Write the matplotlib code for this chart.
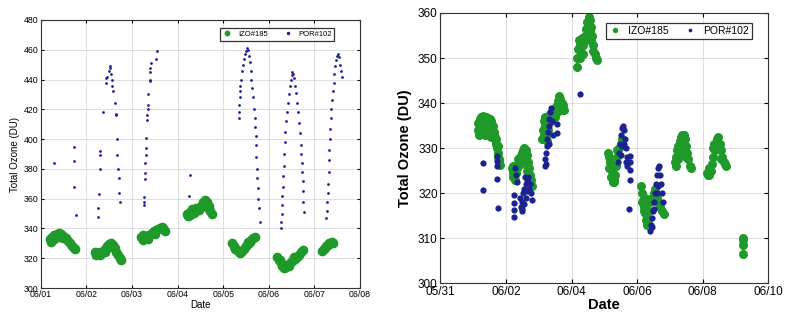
import numpy as np
import matplotlib
matplotlib.use("Agg")
import matplotlib.pyplot as plt
import matplotlib.dates as mdates

plt.rcParams["font.family"] = ["Liberation Sans", "DejaVu Sans"]

GREEN = "#1f9a2a"
BLUE = "#1c2390"

# ---- left panel: days after 06/01 ----
left_izo_t = [0.20, 0.25, 0.30, 0.35, 0.40, 0.45, 0.50, 0.55, 0.60, 0.64, 0.68, 0.72, 0.75,
              0.22, 0.30, 0.40, 0.50,
              1.19, 1.24, 1.29, 1.34, 1.38, 1.42, 1.46, 1.50, 1.54, 1.58, 1.62, 1.66, 1.70, 1.74, 1.77,
              1.22, 1.30, 1.40, 1.52,
              2.21, 2.25, 2.29, 2.33, 2.37, 2.41, 2.45, 2.49, 2.53, 2.57, 2.61, 2.65, 2.69, 2.72,
              2.25, 2.35, 2.50,
              3.20, 3.24, 3.28, 3.32, 3.36, 3.40, 3.44, 3.48, 3.52, 3.56, 3.60, 3.64, 3.68, 3.72, 3.76,
              3.28, 3.36, 3.60, 3.66,
              4.19, 4.23, 4.27, 4.31, 4.35, 4.38, 4.42, 4.46, 4.50, 4.54, 4.58, 4.62, 4.66, 4.70,
              4.25, 4.40, 4.55,
              5.18, 5.22, 5.26, 5.30, 5.34, 5.38, 5.42, 5.46, 5.50, 5.54, 5.58, 5.62, 5.66, 5.70, 5.74,
              5.25, 5.35, 5.45, 5.55,
              6.17, 6.20, 6.23, 6.26, 6.29, 6.32, 6.35, 6.38, 6.41]
left_izo_v = [333, 334.5, 335.5, 336.5, 337, 336.5, 335, 333.5, 331.5, 330, 328.5, 327, 326,
              331, 333, 334.5, 333.5,
              324, 323.5, 324, 324.5, 325, 326.5, 328, 329.5, 330, 329, 327, 324.5, 322, 320, 319,
              322.5, 322.5, 324, 327.5,
              334, 332.5, 333.5, 335, 335.5, 336, 337, 338, 339, 339.5, 340.5, 341, 340, 338.5,
              335.5, 333, 336.5,
              350, 348.5, 351, 353, 352.5, 354, 353, 352.5, 355, 357.5, 359, 358, 355, 352, 349.5,
              349, 350.5, 356, 353.5,
              330, 328.5, 327, 325.5, 324, 323.5, 325, 326.5, 328, 329.5, 331, 332, 333.5, 334.5,
              326, 324.5, 331,
              321, 319, 317, 315, 313.5, 314, 315.5, 317, 318, 318.5, 319.5, 321, 322.5, 324, 325.5,
              319, 315.5, 315, 320.5,
              325, 326, 327, 328, 329, 330, 330.5, 331, 330]

left_por_t = [0.30, 0.72, 0.73, 0.74, 0.77,
              1.26, 1.26, 1.27, 1.29, 1.29, 1.30, 1.36, 1.43, 1.44, 1.45, 1.50, 1.51, 1.52,
              1.55, 1.56, 1.57, 1.58, 1.64, 1.65, 1.66, 1.67, 1.68, 1.69, 1.71, 1.72, 1.73,
              2.26, 2.26, 2.27, 2.28, 2.28, 2.29, 2.30, 2.30, 2.31, 2.34, 2.34, 2.35, 2.35, 2.36,
              2.39, 2.39, 2.40, 2.40, 2.41, 2.53, 2.54,
              3.26, 3.27,
              4.34, 4.35, 4.35, 4.36, 4.37, 4.38, 4.40, 4.42, 4.44, 4.46, 4.48, 4.50, 4.52, 4.54,
              4.56, 4.58, 4.60, 4.62, 4.64, 4.66, 4.68, 4.69, 4.70, 4.71, 4.72, 4.73, 4.74, 4.75,
              4.76, 4.77, 4.78, 4.80,
              5.26, 5.27, 5.28, 5.29, 5.30, 5.31, 5.32, 5.33, 5.34, 5.35, 5.36, 5.38, 5.40, 5.42,
              5.44, 5.46, 5.48, 5.50, 5.52, 5.54, 5.56, 5.58, 5.60, 5.62, 5.64, 5.66, 5.68, 5.70,
              5.71, 5.72, 5.73, 5.74, 5.75, 5.76, 5.77,
              6.26, 6.27, 6.28, 6.29, 6.30, 6.31, 6.32, 6.33, 6.34, 6.35, 6.36, 6.37, 6.38, 6.40,
              6.42, 6.44, 6.46, 6.48, 6.50, 6.52, 6.54, 6.56, 6.58, 6.60]
left_por_v = [384, 395, 385, 368, 349,
              354, 348, 363, 392, 389, 380, 418, 438, 441, 442, 446, 448, 449,
              444, 440, 436, 432, 424, 417, 416, 400, 389, 380, 374, 364, 358,
              356, 358, 361, 373, 377, 384, 389, 394, 401, 413, 416, 420, 423, 430,
              439, 440, 445, 448, 451, 454, 459,
              362, 376,
              414, 418, 423, 428, 432, 436, 440, 446, 450, 454, 457, 459, 461, 460,
              456, 452, 446, 440, 434, 428, 420, 414, 408, 402, 396, 388, 380, 374,
              367, 360, 354, 344,
              340, 344, 350, 356, 362, 368, 375, 382, 390, 398, 405, 412, 418, 424,
              430, 436, 440, 443, 445, 444, 441, 436, 431, 424, 418, 411, 404, 396,
              390, 384, 378, 372, 365, 358, 351,
              347, 352, 358, 364, 370, 378, 386, 393, 400, 407, 414, 420, 426, 432,
              438, 444, 449, 453, 456, 457, 455, 450, 446, 442]

# ---- right panel: days after 05/31 ----
right_izo_t = [1.15, 1.20, 1.25, 1.30, 1.35, 1.40, 1.45, 1.50, 1.55, 1.60,
               1.15, 1.20, 1.25, 1.30, 1.35, 1.40, 1.45, 1.50, 1.55, 1.60, 1.65, 1.68,
               1.18, 1.25, 1.35, 1.45, 1.55,
               1.62, 1.66, 1.70, 1.72, 1.74, 1.76, 1.78, 1.80, 1.82, 1.70, 1.75,
               2.17, 2.20, 2.22, 2.25, 2.28, 2.30, 2.33, 2.36, 2.40, 2.44, 2.48, 2.52, 2.56, 2.60,
               2.63, 2.66, 2.70, 2.73, 2.76, 2.80, 2.20, 2.45, 2.50, 2.55, 2.60, 2.65, 2.70, 2.35,
               3.10, 3.12, 3.15, 3.18, 3.20, 3.22, 3.25, 3.28, 3.30, 3.34, 3.38, 3.42, 3.46, 3.50,
               3.54, 3.58, 3.62, 3.66, 3.70, 3.74, 3.78, 3.50, 3.56, 3.62, 3.68, 3.15, 3.25,
               4.15, 4.18, 4.20, 4.22, 4.25, 4.28, 4.30, 4.33, 4.36, 4.40, 4.44, 4.48, 4.52, 4.56,
               4.60, 4.63, 4.66, 4.70, 4.74, 4.78, 4.45, 4.50, 4.55, 4.60, 4.65, 4.25, 4.35,
               5.12, 5.15, 5.18, 5.20, 5.22, 5.25, 5.28, 5.30, 5.32, 5.35, 5.38, 5.40, 5.15, 5.20,
               5.25, 5.45, 5.50, 5.55,
               6.13, 6.16, 6.19, 6.22, 6.25, 6.28, 6.30, 6.33, 6.36, 6.40, 6.45, 6.50, 6.55, 6.60,
               6.65, 6.70, 6.75, 6.83, 6.15, 6.20, 6.25,
               7.15, 7.18, 7.20, 7.23, 7.26, 7.30, 7.34, 7.38, 7.42, 7.46, 7.50, 7.53, 7.56, 7.60,
               7.65, 7.30, 7.35, 7.45, 7.50, 7.25,
               8.12, 8.16, 8.20, 8.24, 8.28, 8.32, 8.36, 8.40, 8.44, 8.48, 8.52, 8.56, 8.60, 8.64,
               8.68, 8.72, 8.30, 8.35, 8.20, 8.55,
               9.22, 9.24, 9.23, 9.22]
right_izo_v = [335.5, 336.5, 337, 337.2, 337, 337, 336.8, 336.5, 336, 335,
               334, 334.5, 335, 335, 335, 335, 334.5, 334.5, 334, 333, 332, 331,
               333, 333.2, 333, 333, 332.5,
               333.5, 332.5, 331, 330, 329, 328, 327.5, 327, 326.3, 332, 330.5,
               325.5, 326, 324.5, 323.5, 323, 324.5, 325.5, 326, 327, 328, 329, 329.5, 330, 329.5,
               328.5, 327, 325.5, 324, 323, 321.5, 323.5, 326.5, 327.5, 328, 327, 325, 323.5, 327.5,
               332, 334, 336, 337, 335, 333, 331.5, 334, 336.5, 337.5, 336, 337, 338, 339,
               339.5, 340.5, 341.5, 341, 340, 339.5, 338.5, 337, 338, 339, 338.5, 333, 335,
               348, 350, 352, 354, 353, 351, 352.5, 354.5, 353, 355, 356.5, 358, 359, 358.5,
               357, 355, 353, 351, 350, 349.5, 354, 355.5, 356, 354, 351.5, 350, 351,
               329, 328, 327, 326, 325, 324, 323, 322.5, 324, 326, 328, 329.5, 325.5, 323.5,
               322.5, 330, 331, 332,
               321.5, 320, 318.5, 317, 315.5, 314, 313, 314, 316, 318, 319, 320, 321, 319,
               318, 317, 316, 315.3, 318, 316, 319,
               327, 326, 328, 329.5, 330.5, 331.5, 332.5, 333, 333, 332, 330.5, 329, 327.5, 326,
               325.5, 328.5, 330, 329.5, 328, 327.5,
               324.5, 324, 324, 325, 326.5, 328, 329.5, 331, 332, 332.5, 331, 329.5, 328, 327,
               326.5, 326, 330, 331, 325.5, 327.5,
               310, 309.5, 308.5, 306.5]

right_por_t = [1.29, 1.29, 1.71, 1.71, 1.71, 1.71, 1.76,
               2.25, 2.25, 2.25, 2.25, 2.27, 2.30, 2.32,
               2.42, 2.45, 2.48, 2.50, 2.53, 2.56, 2.60, 2.64, 2.68, 2.72, 2.75, 2.78,
               2.50, 2.55, 2.60, 2.65, 2.70, 2.58,
               3.19, 3.20, 3.22, 3.24, 3.26, 3.28, 3.30, 3.32, 3.34, 3.36, 3.40, 3.42, 3.56, 3.56,
               3.22, 3.30,
               4.25,
               5.42, 5.45, 5.48, 5.50, 5.53, 5.56, 5.60, 5.62, 5.65, 5.68, 5.70, 5.50, 5.55, 5.60,
               5.65, 5.78, 5.78, 5.78, 5.78, 5.76,
               6.39, 6.42, 6.45, 6.48, 6.52, 6.55, 6.58, 6.62, 6.65, 6.68, 6.70, 6.72, 6.75, 6.78,
               6.60, 6.65, 6.50, 6.45]
right_por_v = [326.7, 320.8, 328.2, 327.1, 326, 323.1, 316.7,
               319.7, 317.8, 316.3, 314.8, 325.5, 324, 322.5,
               319, 317, 316, 318, 320, 321, 322, 323, 323.5, 322, 320, 318.5,
               316.5, 317.5, 319, 320.5, 321, 323.5,
               326, 327.5, 329, 330.5, 332, 333.5, 335, 336.5, 338, 339, 336, 333, 335.4, 333.4,
               326.5, 331,
               342.1,
               327, 329, 331, 333, 334.5, 335, 334, 332, 330, 328, 326, 328.5, 330.5, 331,
               327, 328.2, 326.9, 325.1, 322.9, 316.4,
               311.5, 313, 314.5, 316, 318, 320, 322, 324, 325.5, 326, 324, 322, 320, 318,
               320, 321.5, 316.5, 312.5]

left_start = mdates.date2num(np.datetime64("2014-06-01"))
right_start = mdates.date2num(np.datetime64("2014-05-31"))

fig = plt.figure(figsize=(7.85, 3.2), dpi=100)
ax1 = fig.add_axes([0.0518, 0.100, 0.4068, 0.8375])
ax2 = fig.add_axes([0.5611, 0.1147, 0.4176, 0.8447])

# left
ax1.plot(left_start + np.array(left_izo_t), left_izo_v, "o", color=GREEN, ms=7, mew=0, label="IZO#185")
ax1.plot(left_start + np.array(left_por_t), left_por_v, "o", color=BLUE, ms=2.0, mew=0, label="POR#102")
ax1.set_xlim(left_start, left_start + 7)
ax1.set_ylim(300, 480)
ax1.set_yticks(np.arange(300, 481, 20))
ax1.xaxis.set_major_locator(mdates.DayLocator())
ax1.xaxis.set_major_formatter(mdates.DateFormatter("%m/%d"))
ax1.set_xlabel("Date", fontsize=7, labelpad=1)
ax1.set_ylabel("Total Ozone (DU)", fontsize=7, labelpad=3)
ax1.tick_params(labelsize=6.3, direction="in", top=True, right=True, length=2.5, pad=1.5)
leg1 = ax1.legend(loc="upper right", ncol=2, fontsize=5.5, frameon=True, fancybox=False,
                  edgecolor="black", handlelength=1.2, handletextpad=0.8, columnspacing=2.0,
                  borderpad=0.35, markerscale=0.6, bbox_to_anchor=(0.932, 0.984))
leg1.legend_handles[1].set_markersize(2.5)

# right
ax2.plot(right_start + np.array(right_izo_t), right_izo_v, "o", color=GREEN, ms=6.5, mew=0, label="IZO#185")
ax2.plot(right_start + np.array(right_por_t), right_por_v, "o", color=BLUE, ms=4.5, mew=0, label="POR#102")
ax2.set_xlim(right_start, right_start + 10)
ax2.set_ylim(300, 360)
ax2.set_yticks(np.arange(300, 361, 10))
ax2.xaxis.set_major_locator(mdates.DayLocator(interval=2))
ax2.xaxis.set_major_formatter(mdates.DateFormatter("%m/%d"))
ax2.set_xlabel("Date", fontsize=10.5, fontweight="bold", labelpad=0)
ax2.set_ylabel("Total Ozone (DU)", fontsize=10.5, fontweight="bold", labelpad=4)
ax2.tick_params(labelsize=8.5, direction="in", top=True, right=True, length=3, pad=2)
leg2 = ax2.legend(loc="upper right", ncol=2, fontsize=7.5, frameon=True, fancybox=False,
                  edgecolor="black", handlelength=1.2, handletextpad=0.6, columnspacing=1.5,
                  borderpad=0.3, markerscale=0.6, bbox_to_anchor=(0.965, 0.983))

for ax in (ax1, ax2):
    ax.grid(True, color="#d9d9d9", lw=0.6)
    ax.set_axisbelow(True)
    for s in ax.spines.values():
        s.set_color("#333333")
        s.set_linewidth(0.8)
    ax.get_legend().get_frame().set_linewidth(0.9)

fig.savefig("out.png", dpi=100)
